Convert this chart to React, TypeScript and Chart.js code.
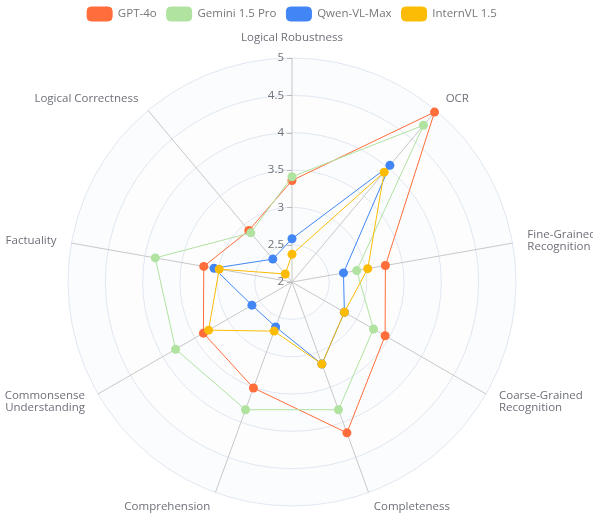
import React, { useEffect, useRef } from "react";
import { Chart, registerables } from "chart.js";

Chart.register(...registerables);

const categories: (string | string[])[] = [
  "Logical Robustness",
  "OCR",
  ["Fine-Grained", "Recognition"],
  ["Coarse-Grained", "Recognition"],
  "Completeness",
  "Comprehension",
  ["Commonsense", "Understanding"],
  "Factuality",
  "Logical Correctness",
];

const seriesNames = ["GPT-4o", "Gemini 1.5 Pro", "Qwen-VL-Max", "InternVL 1.5"];
const seriesColors = ["#FF6D3B", "#B0E2A0", "#4286F5", "#FCBC05"];

const gpt4o = [3.36, 4.97, 3.27, 3.44, 4.15, 3.51, 3.37, 3.2, 2.9];
const gemini = [3.41, 4.74, 2.88, 3.26, 3.82, 3.82, 3.8, 3.86, 2.86];
const qwen = [2.58, 4.04, 2.7, 2.81, 3.17, 2.64, 2.62, 3.06, 2.4];
const internvl = [2.37, 3.92, 3.03, 2.81, 3.17, 2.7, 3.29, 2.99, 2.14];

const seriesValues = [gpt4o, gemini, qwen, internvl];

const scaleMin = 2;
const scaleMax = 5;
const scaleStep = 0.5;

const FONT = "'Open Sans', 'Noto Sans', sans-serif";
const FONT_SIZE = 11.5;
const TEXT_COLOR = "#6E7079";

const legendSpacer = {
  id: "legendSpacer",
  beforeInit(chart: any) {
    const legend = chart.legend;
    if (!legend) return;
    const origFit = legend.fit;
    legend.fit = function () {
      origFit.call(this);
      this.height += 21;
    };
  },
};

const radarDecor = {
  id: "radarDecor",
  beforeDraw(chart: any) {
    const s = chart.scales.r;
    const ctx = chart.ctx;
    const cx = s.xCenter;
    const cy = s.yCenter;
    const ticks = s.ticks;
    ctx.save();
    for (let i = 1; i < ticks.length; i++) {
      const rIn = s.getDistanceFromCenterForValue(ticks[i - 1].value);
      const rOut = s.getDistanceFromCenterForValue(ticks[i].value);
      ctx.beginPath();
      ctx.arc(cx, cy, rOut, 0, Math.PI * 2);
      ctx.arc(cx, cy, rIn, 0, Math.PI * 2, true);
      ctx.closePath();
      ctx.fillStyle = (i - 1) % 2 === 0 ? "rgba(250,250,250,0.3)" : "rgba(205,212,230,0.07)";
      ctx.fill();
    }
    ctx.restore();
  },
  beforeDatasetsDraw(chart: any) {
    const s = chart.scales.r;
    const ctx = chart.ctx;
    const cx = s.xCenter;
    const cy = s.yCenter;
    ctx.save();
    ctx.strokeStyle = "#bbb";
    ctx.lineWidth = 1;
    ctx.fillStyle = TEXT_COLOR;
    ctx.font = `${FONT_SIZE}px ${FONT}`;
    ctx.textAlign = "right";
    ctx.textBaseline = "middle";
    for (const t of s.ticks) {
      const y = cy - s.getDistanceFromCenterForValue(t.value);
      ctx.beginPath();
      ctx.moveTo(cx - 5, Math.round(y) + 0.5);
      ctx.lineTo(cx, Math.round(y) + 0.5);
      ctx.stroke();
      ctx.fillText(String(t.value), cx - 8, y);
    }
    const lh = 12;
    const n = chart.data.labels.length;
    for (let i = 0; i < n; i++) {
      const raw = chart.data.labels[i];
      const lines: string[] = Array.isArray(raw) ? raw : [raw];
      const p = s.getPointPosition(i, s.drawingArea + 15);
      const c = Math.cos(p.angle);
      const sn = Math.sin(p.angle);
      let align: CanvasTextAlign = "center";
      if (Math.abs(c) >= 0.01) align = c > 0 ? "left" : "right";
      ctx.textAlign = align;
      if (Math.abs(c) < 0.01) {
        if (sn < 0) {
          ctx.textBaseline = "bottom";
          lines.forEach((ln, k) => ctx.fillText(ln, p.x, p.y - (lines.length - 1 - k) * lh));
        } else {
          ctx.textBaseline = "top";
          lines.forEach((ln, k) => ctx.fillText(ln, p.x, p.y + k * lh));
        }
      } else {
        ctx.textBaseline = "middle";
        const y0 = p.y - ((lines.length - 1) * lh) / 2;
        lines.forEach((ln, k) => ctx.fillText(ln, p.x, y0 + k * lh));
      }
    }
    ctx.restore();
  },
};

export default function App() {
  const ref = useRef<HTMLCanvasElement | null>(null);

  useEffect(() => {
    document.body.style.margin = "0";
    if (!ref.current) return;
    const chart = new Chart(ref.current, {
      type: "radar",
      data: {
        labels: categories as any,
        datasets: seriesNames.map((name, i) => ({
          label: name,
          data: seriesValues[i],
          borderColor: seriesColors[i],
          backgroundColor: seriesColors[i],
          pointBackgroundColor: seriesColors[i],
          pointBorderColor: seriesColors[i],
          pointBorderWidth: 0,
          pointRadius: 4.5,
          pointHoverRadius: 4.5,
          borderWidth: 1,
          fill: false,
          order: seriesNames.length - 1 - i,
        })),
      },
      options: {
        animation: false,
        responsive: false,
        devicePixelRatio: 1,
        layout: { padding: { left: 68, right: 77, top: -3, bottom: 0 } },
        elements: { line: { tension: 0 } },
        plugins: {
          tooltip: { enabled: false },
          legend: {
            position: "top",
            labels: {
              boxWidth: 25,
              boxHeight: 14,
              useBorderRadius: true,
              borderRadius: 4,
              padding: 10,
              color: "#777",
              font: { size: FONT_SIZE, family: FONT },
              sort: (a: any, b: any) => a.datasetIndex - b.datasetIndex,
            },
          },
        },
        scales: {
          r: {
            min: scaleMin,
            max: scaleMax,
            ticks: { stepSize: scaleStep, display: false },
            pointLabels: { display: false },
            grid: { circular: true, color: "#E0E6F1", lineWidth: 1 },
            angleLines: { display: true, color: "#c8c8c8", lineWidth: 1 },
          },
        },
      },
      plugins: [legendSpacer, radarDecor],
    });
    return () => chart.destroy();
  }, []);

  return (
    <div style={{ width: 593, height: 513 }}>
      <canvas ref={ref} width={593} height={513} style={{ display: "block" }} />
    </div>
  );
}
